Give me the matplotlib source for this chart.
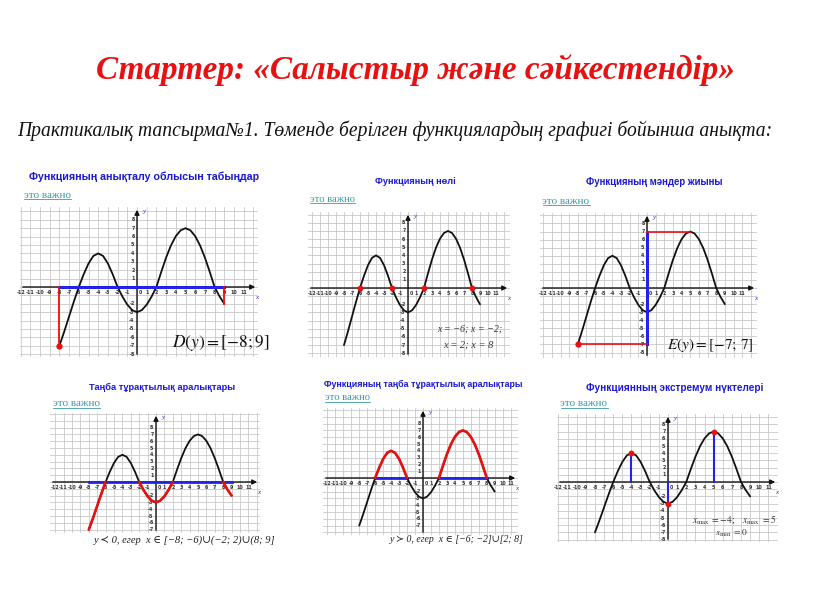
import matplotlib
matplotlib.use('Agg')
import matplotlib.pyplot as plt
from matplotlib.lines import Line2D
import numpy as np

W, H = 816, 613

# The same function graph is shown in all six panels
curve_x = [-8, -7.5, -7, -6.5, -6, -5.5, -5, -4.5, -4, -3.5, -3, -2.5, -2, -1.5, -1, -0.5,
           0, 0.5, 1, 1.5, 2, 2.5, 3, 3.5, 4, 4.5, 5, 5.5, 6, 6.5, 7, 7.5, 8, 8.5, 9]
curve_y = [-7.0, -5.3, -3.5, -1.7, 0, 1.5, 2.8, 3.7, 4.0, 3.7, 2.8, 1.5, 0, -1.15, -2.1, -2.75,
           -3.0, -2.75, -2.1, -1.15, 0, 1.8, 3.5, 4.95, 6.05, 6.75, 7.0, 6.75, 6.05, 4.95, 3.5, 1.8,
           0, -1.1, -2.0]

domain = [-8, 9]
value_range = [-7, 7]
zeros_x = [-6, -2, 2, 8]
negative_parts = [(-8, -6), (-2, 2), (8, 9)]
positive_parts = [(-6, -2), (2, 8)]
extrema_x = [-4, 0, 5]
extrema_y = [4, -3, 7]
x_ticks = list(range(-12, 12))
y_ticks = [v for v in range(-8, 9) if v not in (0, -1)]

main_title = 'Стартер: «Салыстыр және сәйкестендір»'
sub_title = 'Практикалық тапсырма№1. Төменде берілген функциялардың графигі бойынша анықта:'
panel_titles = ['Функцияның анықталу облысын табыңдар', 'Функцияның нөлі',
                'Функцияның мәндер жиыны', 'Таңба тұрақтылық аралықтары',
                'Функцияның таңба тұрақтылық аралықтары', 'Функциянның экстремум нүктелері']
link_text = 'это важно'

BLACK = '#111111'
BLUE = '#2323e6'
RED = '#e81010'
GRID = '#c9c9c9'
TITLE_BLUE = '#1a1ad2'
LINK = '#3a9aa8'

plt.rcParams['mathtext.fontset'] = 'stix'
serif = ['Liberation Serif', 'DejaVu Serif', 'DejaVu Sans']

fig = plt.figure(figsize=(W / 100, H / 100), dpi=100)
fig.patch.set_facecolor('white')
renderer = fig.canvas.get_renderer()

cx = np.array(curve_x)
cy = np.array(curve_y)


def fit_text(s, x0, x1, y, max_size=None, **kw):
    # put text centred between x0..x1 (pixels) and scale it to that width
    t = fig.text((x0 + x1) / 2 / W, 1 - y / H, s, ha='center', va='center', fontsize=10, **kw)
    w = t.get_window_extent(renderer).width
    size = 10 * (x1 - x0) / w
    if max_size is not None:
        size = min(size, max_size)
    t.set_fontsize(size)
    return t


def link(x0, x1, y):
    t = fit_text(link_text, x0, x1, y, max_size=8, color=LINK, family=serif)
    bb = t.get_window_extent(renderer)
    fig.add_artist(Line2D([bb.x0 / W, bb.x1 / W], [1 - (y + 4) / H] * 2, color=LINK, lw=0.6))


def panel(box, origin, scale, ymin_tick=-8):
    left, right, top, bottom = box
    ox, oy = origin
    sx, sy = scale
    ax = fig.add_axes([left / W, 1 - bottom / H, (right - left) / W, (bottom - top) / H])
    x0, x1 = (left - ox) / sx, (right - ox) / sx
    y0, y1 = (oy - bottom) / sy, (oy - top) / sy
    ax.set_xlim(x0, x1)
    ax.set_ylim(y0, y1)
    ax.set_axis_off()
    for g in range(int(np.ceil(x0)), int(np.floor(x1)) + 1):
        ax.axvline(g, color=GRID, lw=0.6, zorder=0)
    for g in range(int(np.ceil(y0)), int(np.floor(y1)) + 1):
        ax.axhline(g, color=GRID, lw=0.6, zorder=0)
    ax.annotate('', xy=(x1, 0), xytext=(x0, 0),
                arrowprops=dict(arrowstyle='-|>', color=BLACK, lw=1.0, mutation_scale=7), zorder=2)
    ax.annotate('', xy=(0, y1), xytext=(0, y0),
                arrowprops=dict(arrowstyle='-|>', color=BLACK, lw=1.0, mutation_scale=7), zorder=2)
    for v in x_ticks:
        dx = 2.2 if v == 0 else 0
        ax.annotate(str(v), (v, 0), xytext=(dx, -2.2), textcoords='offset points',
                    ha='center', va='top', fontsize=3.4, fontweight='bold', color='#333333')
    for v in y_ticks:
        if v < ymin_tick:
            continue
        ax.annotate(str(v), (0, v), xytext=(-1.8, 0), textcoords='offset points',
                    ha='right', va='center', fontsize=3.4, fontweight='bold', color='#333333')
    ax.annotate('x', (x1, 0), xytext=(-1, -6), textcoords='offset points', ha='center', va='top',
                fontsize=5, style='italic', color=BLUE, family=serif)
    ax.annotate('y', (0, y1), xytext=(4, -3), textcoords='offset points', ha='left', va='center',
                fontsize=5, style='italic', color=BLUE, family=serif)
    return ax


def curve(ax, color=BLACK):
    ax.plot(cx, cy, color=color, lw=1.3, zorder=3, solid_capstyle='round')


def curve_parts(ax, parts, color):
    for a, b in parts:
        m = (cx >= a) & (cx <= b)
        ax.plot(cx[m], cy[m], color=color, lw=1.9, zorder=4, solid_capstyle='round')


# headings
fit_text(main_title, 97, 735, 70, color=RED, family=serif, fontweight='bold', style='italic')
fit_text(sub_title, 16, 773, 131, color=BLACK, family=serif, style='italic')

# 1. domain
ax = panel((20, 258, 207, 357), (137, 287), (9.7, 8.4))
curve(ax)
ax.plot(domain, [0, 0], color=BLUE, lw=2.2, zorder=4)
ax.plot([domain[0]] * 2, [0, curve_y[0]], color=RED, lw=1.3, zorder=4)
ax.plot([domain[1]] * 2, [0, curve_y[-1]], color=RED, lw=1.3, zorder=4)
ax.plot(domain[0], curve_y[0], 'o', color=RED, ms=3.5, zorder=5)
fit_text(panel_titles[0], 30, 258, 177, color=TITLE_BLUE, fontweight='bold', family='Liberation Sans')
link(20, 74, 195)
fit_text(r'$D(y)=\left[-8;9\right]$', 172, 270, 343, color=BLACK)

# 2. zeros
ax = panel((308, 510, 212, 357), (408, 288), (8.0, 8.15))
curve(ax)
ax.plot(zeros_x, [0] * len(zeros_x), 'o', color=RED, ms=3.2, zorder=5)
fit_text(panel_titles[1], 375, 455, 181, color=TITLE_BLUE, fontweight='bold', family='Liberation Sans')
link(310, 355, 199)
fit_text('x = −6; x = −2;', 437, 502, 329, color='#333333', family=serif, style='italic')
fit_text('x = 2; x = 8', 443, 493, 345, color='#333333', family=serif, style='italic')

# 3. range
ax = panel((540, 757, 213, 358), (647, 288), (8.65, 8.07))
curve(ax)
ax.plot([0, 0], value_range, color=BLUE, lw=2.2, zorder=4)
ax.plot([0, 5], [value_range[1]] * 2, color=RED, lw=1.2, zorder=4)
ax.plot([domain[0], 0], [value_range[0]] * 2, color=RED, lw=1.2, zorder=4)
ax.plot(domain[0], value_range[0], 'o', color=RED, ms=3.5, zorder=5)
fit_text(panel_titles[2], 585, 723, 182, color=TITLE_BLUE, fontweight='bold', family='Liberation Sans')
link(542, 590, 201)
fit_text(r'$E(y)=\left[-7;\,7\right]$', 667, 754, 345, color=BLACK)

# 4. negative intervals
ax = panel((50, 260, 413, 533), (156, 482), (8.4, 6.8), ymin_tick=-7)
curve(ax)
curve_parts(ax, negative_parts, RED)
ax.plot(domain, [0, 0], color=BLUE, lw=2.0, zorder=2.5)
fit_text(panel_titles[3], 89, 235, 387, color=TITLE_BLUE, fontweight='bold', family='Liberation Sans')
link(53, 100, 404)
fit_text('y ≺ 0, егер  x ∈ [−8; −6)∪(−2; 2)∪(8; 9]', 93, 276, 540,
         color='#222222', family=serif, style='italic')

# 5. positive intervals
ax = panel((323, 518, 408, 535), (423, 478), (7.97, 6.8), ymin_tick=-7)
curve(ax)
curve_parts(ax, positive_parts, RED)
for a, b in positive_parts:
    ax.plot([a, b], [0, 0], color=BLUE, lw=2.0, zorder=2.5)
fit_text(panel_titles[4], 324, 522, 384, color=TITLE_BLUE, fontweight='bold', family='Liberation Sans')
link(325, 370, 398)
fit_text('y ≻ 0, егер  x ∈ [−6; −2]∪[2; 8]', 390, 523, 540,
         color='#222222', family=serif, style='italic')

# 6. extrema
ax = panel((557, 778, 414, 542), (668, 482), (9.13, 7.2))
curve(ax)
for ex, ey in zip(extrema_x, extrema_y):
    ax.plot([ex, ex], [0, ey], color=BLUE, lw=1.5, zorder=4)
ax.plot(extrema_x, extrema_y, 'o', color=RED, ms=3.2, zorder=5)
fit_text(panel_titles[5], 587, 762, 388, color=TITLE_BLUE, fontweight='bold', family='Liberation Sans')
link(560, 608, 404)
fit_text(r'$x_{\max}\;=-4;\quad x_{\max}\;=5$', 692, 776, 519, color='#333333')
fit_text(r'$x_{\min}\;=0$', 715, 747, 533, color='#333333')

fig.savefig('out.png', dpi=100, facecolor='white')
